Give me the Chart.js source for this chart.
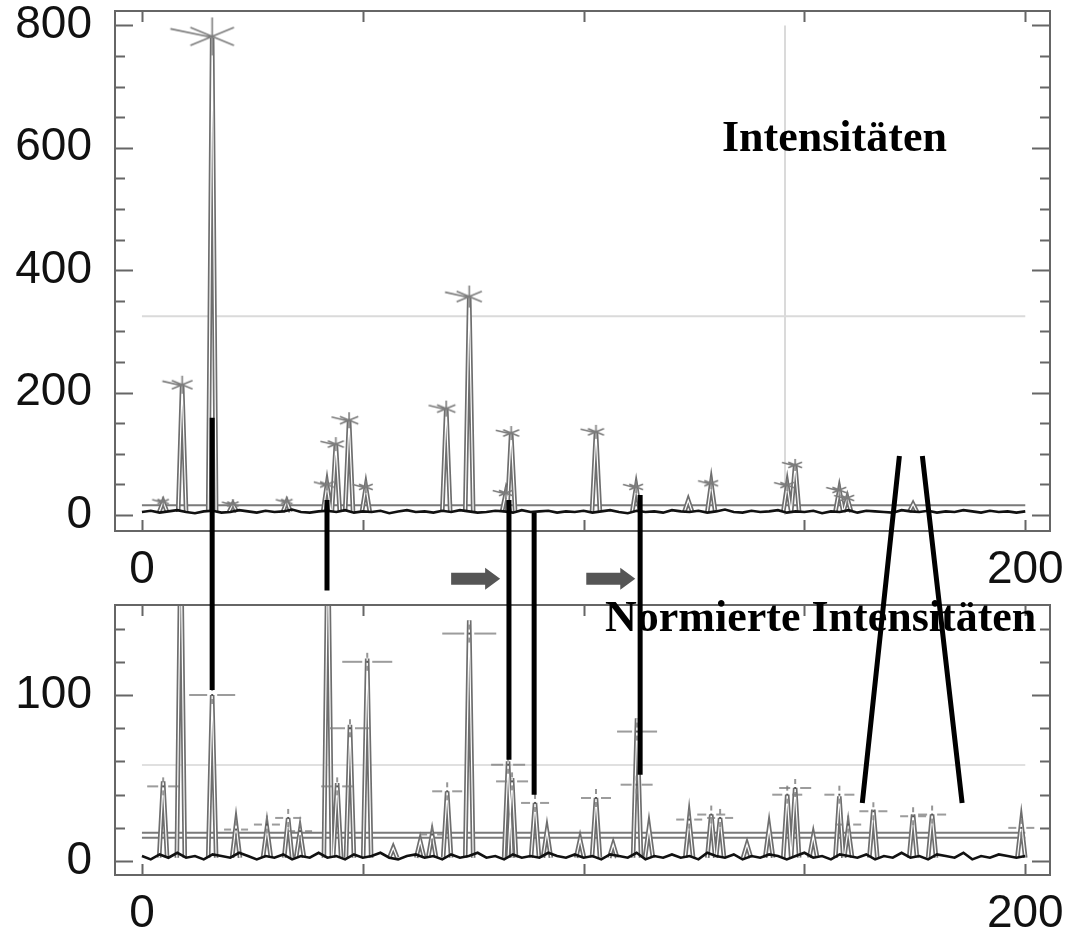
<!DOCTYPE html>
<html>
<head>
<meta charset="utf-8">
<script src="https://cdn.jsdelivr.net/npm/chart.js@4.4.0/dist/chart.umd.min.js"></script>
<style>
  body { margin: 0; background: #fff; width: 1069px; height: 937px; position: relative; overflow: hidden; }
  canvas { position: absolute; left: 0; }
  #chart-top { top: 0; }
  #chart-bottom { top: 540px; }
  #overlay { top: 0; pointer-events: none; }
  .titel { position: absolute; font: bold 44px 'Liberation Serif', 'Times New Roman', serif; line-height: 1; color: #000; white-space: nowrap; }
</style>
</head>
<body>
<canvas id="chart-top" width="1069" height="600"></canvas>
<canvas id="chart-bottom" width="1069" height="397"></canvas>
<div class="titel" style="left:722px;top:115px">Intensitäten</div>
<div class="titel" style="left:605px;top:595px">Normierte Intensitäten</div>
<canvas id="overlay" width="1069" height="937"></canvas>
<script>
// axes
const xTicks = [0, 50, 100, 150, 200];
const xLabels = [0, 200];
const topYTicks = [0, 200, 400, 600, 800];
const botYTicks = [0, 100];

// oberes Spektrum: Intensitäten
const topPeakX = [4.8, 9.1, 15.9, 20.6, 32.8, 41.9, 43.9, 46.9, 50.7, 68.9, 74.1, 82.4, 83.6, 102.8, 111.9, 123.7, 128.9, 146.1, 147.9, 157.9, 159.7, 174.6];
const topPeakY = [22, 213, 780, 18, 22, 50, 116, 155, 46, 174, 356, 36, 134, 136, 46, 24, 52, 49, 82, 41, 28, 18];
const topStarX = [4.8, 9.1, 15.9, 20.6, 32.8, 41.9, 43.9, 46.9, 50.7, 68.9, 74.1, 82.4, 83.6, 102.8, 111.9, 128.9, 146.1, 147.9, 157.9, 159.7];
const topStarY = [22, 213, 782, 18, 22, 50, 116, 155, 46, 174, 357, 36, 134, 136, 46, 52, 49, 82, 41, 28];
const topNoise = [
  5, 7, 4, 6, 8, 5, 3, 6, 7, 4, 5, 8, 6, 4, 7, 5, 6, 9, 5, 4,
  6, 7, 5, 8, 4, 6, 5, 7, 3, 6, 8, 5, 6, 4, 7, 5, 8, 6, 4, 5,
  7, 6, 4, 8, 5, 6, 7, 4, 6, 5, 7, 4, 6, 8, 5, 3, 7, 5, 6, 4,
  8, 6, 5, 7, 4, 6, 9, 5, 4, 7, 5, 6, 8, 4, 6, 5, 7, 3, 6, 5,
  8, 4, 7, 6, 5, 4, 8, 6, 5, 7, 4, 6, 5, 8, 6, 4, 7, 5, 6, 4, 6,
];
const topRefH = 325;
const topRefV = 145.6;
const topThreshold = [16];

// unteres Spektrum: normierte Intensitäten
const botPeakX = [4.8, 8.8, 15.9, 21.3, 28.3, 33.1, 35.8, 42.1, 44.2, 47.1, 51.0, 56.9, 63.0, 65.7, 69.1, 74.1, 82.9, 83.8, 89.0, 91.7, 99.2, 102.8, 106.7, 112.1, 114.8, 123.9, 128.9, 130.9, 137.0, 142.0, 146.1, 147.9, 152.0, 157.9, 159.9, 165.6, 174.6, 178.9, 199.1];
const botPeakY = [48, 200, 100, 22, 20, 26, 18, 200, 47, 82, 122, 8, 12, 16, 42, 145, 60, 50, 35, 18, 13, 38, 10, 86, 20, 25, 28, 26, 10, 20, 40, 44, 15, 39, 20, 31, 28, 28, 23];
const botMarkX = [4.8, 15.9, 21.3, 28.3, 33.1, 35.8, 44.2, 47.1, 51.0, 65.7, 69.1, 74.1, 82.9, 83.8, 89.0, 102.8, 112.1, 112.0, 123.9, 128.9, 130.9, 146.1, 147.9, 157.9, 159.9, 165.6, 174.6, 178.9, 199.1];
const botMarkY = [45, 100, 19, 22, 26, 18, 45, 80, 120, 16, 42, 137, 58, 48, 35, 38, 78, 46, 25, 28, 26, 40, 44, 40, 22, 30, 27, 28, 20];
const botNoise = [
  3, 1, 4, 2, 5, 2, 3, 1, 4, 3, 2, 5, 3, 1, 3, 2, 4, 1, 3, 2,
  5, 2, 3, 1, 4, 2, 3, 5, 2, 1, 3, 4, 2, 3, 1, 4, 2, 3, 5, 2,
  3, 1, 4, 2, 3, 2, 5, 3, 2, 4, 2, 3, 1, 4, 3, 2, 5, 1, 3, 2,
  4, 2, 3, 1, 5, 3, 2, 4, 1, 3, 2, 4, 3, 1, 3, 5, 2, 3, 1, 4,
  3, 2, 4, 1, 3, 2, 5, 2, 3, 1, 4, 3, 2, 5, 1, 3, 2, 4, 3, 2, 3,
];
const botRefH = 57.8;
const botThreshold = [17, 14];

// Verbindungslinien (oben -> unten) und Pfeile
const linkTopX = [15.9, 41.9, 83.1, 88.8, 112.8, 171.5, 176.7];
const linkTopY = [159, 24.5, 24.5, 3.3, 32.7, 96.4, 96.4];
const linkBotX = [15.9, 41.9, 83.1, 88.8, 112.8, 163.1, 185.7];
const linkBotY = [103, 163, 61, 40, 52, 35, 35];
const arrowTipX = [81.1, 111.7];
const arrowY = -104;

const NOISE_STEP = 2;
const PEAK_HALF = 0.9;
const tickFont = "'Liberation Sans', Arial, sans-serif";

function peakPoints(xs, ys, base) {
  const pts = [];
  xs.forEach((x, i) => {
    pts.push({ x: x - PEAK_HALF, y: base }, { x, y: ys[i] }, { x: x + PEAK_HALF, y: base }, { x: x + PEAK_HALF, y: null });
  });
  return pts;
}
const pairs = (xs, ys) => xs.map((x, i) => ({ x, y: ys[i] }));
const noisePoints = (arr) => arr.map((v, i) => ({ x: i * NOISE_STEP, y: v }));
const hLine = (v) => [{ x: 0, y: v }, { x: 200, y: v }];

const markerCache = {};
function starMarker(r) {
  r = Math.round(r);
  const key = 's' + r;
  if (markerCache[key]) return markerCache[key];
  const c = document.createElement('canvas');
  c.width = r * 5 + 6; c.height = r * 2 + 8;
  const g = c.getContext('2d');
  const cx = c.width / 2, cy = c.height / 2;
  g.strokeStyle = '#7c7c7c'; g.lineWidth = 1.6;
  g.beginPath();
  [90, 28, 152].forEach((a) => {
    const rad = a * Math.PI / 180;
    g.moveTo(cx - Math.cos(rad) * r * 1.3, cy - Math.sin(rad) * r);
    g.lineTo(cx + Math.cos(rad) * r * 1.3, cy + Math.sin(rad) * r);
  });
  g.moveTo(cx, cy + 1);
  g.lineTo(cx - r * 2.2, cy - r * 0.4);
  g.stroke();
  return (markerCache[key] = c);
}
function crossMarker(w) {
  w = Math.round(w);
  const key = 'c' + w;
  if (markerCache[key]) return markerCache[key];
  const c = document.createElement('canvas');
  c.width = w * 2 + 4; c.height = 20;
  const g = c.getContext('2d');
  const cx = c.width / 2, cy = 10;
  g.strokeStyle = '#7c7c7c'; g.lineWidth = 1.6;
  g.beginPath();
  g.moveTo(2, cy); g.lineTo(cx - 5, cy);
  g.moveTo(cx + 5, cy); g.lineTo(c.width - 2, cy);
  g.moveTo(cx, 1); g.lineTo(cx, 6);
  g.moveTo(cx, 14); g.lineTo(cx, 19);
  g.stroke();
  g.fillStyle = '#555';
  g.fillRect(cx - 1, cy - 1, 2, 2);
  return (markerCache[key] = c);
}

const framePlugin = {
  id: 'frame',
  afterDatasetsDraw(chart, args, o) {
    const { ctx, chartArea: a, scales: { x, y } } = chart;
    ctx.save();
    ctx.strokeStyle = '#666';
    ctx.lineWidth = 2;
    ctx.strokeRect(a.left, a.top, a.width, a.height);
    ctx.beginPath();
    for (let v = 0; v <= o.yMax; v += o.minor) {
      const py = Math.round(y.getPixelForValue(v)) + 0.5;
      const len = v % o.major === 0 ? 18 : 10;
      ctx.moveTo(a.left, py); ctx.lineTo(a.left + len, py);
      ctx.moveTo(a.right, py); ctx.lineTo(a.right - len, py);
    }
    xTicks.forEach((v) => {
      const px = Math.round(x.getPixelForValue(v)) + 0.5;
      ctx.moveTo(px, a.top); ctx.lineTo(px, a.top + 11);
      ctx.moveTo(px, a.bottom); ctx.lineTo(px, a.bottom - 11);
    });
    ctx.stroke();
    ctx.restore();
  },
};

function makeChart(id, cfg) {
  return new Chart(document.getElementById(id), {
    type: 'line',
    data: { datasets: cfg.datasets },
    options: {
      responsive: false,
      animation: false,
      devicePixelRatio: 1,
      layout: { padding: { top: cfg.padTop, right: 19, left: 0, bottom: 0 } },
      elements: { line: { tension: 0 }, point: { radius: 0 } },
      plugins: { legend: { display: false }, tooltip: { enabled: false }, frame: cfg.frame },
      scales: {
        x: {
          type: 'linear', min: -6.1, max: 205.6,
          grid: { display: false, drawTicks: false }, border: { display: false },
          afterBuildTicks: (s) => { s.ticks = xTicks.map((v) => ({ value: v })); },
          afterFit: (s) => { s.height = cfg.xAxisH; s.paddingLeft = 0; s.paddingRight = 0; },
          ticks: { padding: 12, maxRotation: 0, autoSkip: false, color: '#111', font: { family: tickFont, size: 46 },
            callback: (v) => (xLabels.includes(v) ? String(v) : '') },
        },
        y: {
          type: 'linear', min: cfg.yMin, max: cfg.yMax,
          grid: { display: false, drawTicks: false }, border: { display: false },
          afterBuildTicks: (s) => { s.ticks = cfg.yTicks.map((v) => ({ value: v })); },
          afterFit: (s) => { s.width = 115; s.paddingTop = 0; s.paddingBottom = 0; },
          ticks: { padding: 23, color: '#111', font: { family: tickFont, size: 46 } },
        },
      },
    },
    plugins: [framePlugin],
  });
}

function spectrumSets(peaks, noise, thresholds, refs, markers) {
  return [
    markers,
    { data: noise, borderColor: '#111111', borderWidth: 2.6, pointRadius: 0 },
    { data: peaks, borderColor: '#ffffff', borderWidth: 1.2, pointRadius: 0, spanGaps: false },
    { data: peaks, borderColor: '#6e6e6e', borderWidth: 4.6, pointRadius: 0, spanGaps: false },
    ...thresholds.map((v) => ({ data: hLine(v), borderColor: '#7a7a7a', borderWidth: 2, pointRadius: 0 })),
    ...refs,
  ];
}

const topChart = makeChart('chart-top', {
  padTop: 11, xAxisH: 69, yMin: -26, yMax: 823.5, yTicks: topYTicks,
  frame: { yMax: 800, minor: 50, major: 200 },
  datasets: spectrumSets(
    peakPoints(topPeakX, topPeakY, 5),
    noisePoints(topNoise),
    topThreshold,
    [
      { data: hLine(topRefH), borderColor: '#dadada', borderWidth: 2, pointRadius: 0 },
      { data: [{ x: topRefV, y: 0 }, { x: topRefV, y: 800 }], borderColor: '#dadada', borderWidth: 2, pointRadius: 0 },
    ],
    { data: pairs(topStarX, topStarY), showLine: false, pointRadius: 3,
      pointStyle: (c) => starMarker(5 + (topStarY[c.dataIndex] || 0) / 55) },
  ),
});

const botChart = makeChart('chart-bottom', {
  padTop: 65, xAxisH: 62, yMin: -8.4, yMax: 154.2, yTicks: botYTicks,
  frame: { yMax: 140, minor: 20, major: 100 },
  datasets: spectrumSets(
    peakPoints(botPeakX, botPeakY, 2),
    noisePoints(botNoise),
    botThreshold,
    [{ data: hLine(botRefH), borderColor: '#d6d6d6', borderWidth: 1.5, pointRadius: 0 }],
    { data: pairs(botMarkX, botMarkY), showLine: false, pointRadius: 3,
      pointStyle: (c) => crossMarker(10 + (botMarkY[c.dataIndex] || 0) / 8) },
  ),
});

// Overlay: Verbindungslinien und Pfeile über beide Diagramme
const topOff = 0, botOff = 540;
const topPx = (x, y) => [topChart.scales.x.getPixelForValue(x), topOff + topChart.scales.y.getPixelForValue(y)];
const botPx = (x, y) => [botChart.scales.x.getPixelForValue(x), botOff + botChart.scales.y.getPixelForValue(y)];

const ov = document.getElementById('overlay').getContext('2d');
ov.strokeStyle = '#000';
ov.lineWidth = 5;
ov.beginPath();
linkTopX.forEach((x, i) => {
  const [x1, y1] = topPx(x, linkTopY[i]);
  const [x2, y2] = botPx(linkBotX[i], linkBotY[i]);
  ov.moveTo(x1, y1);
  ov.lineTo(x2, y2);
});
ov.stroke();

ov.fillStyle = '#555';
arrowTipX.forEach((x) => {
  const [tx, ty] = topPx(x, arrowY);
  ov.beginPath();
  ov.moveTo(tx - 49, ty - 6);
  ov.lineTo(tx - 15, ty - 6);
  ov.lineTo(tx - 15, ty - 11);
  ov.lineTo(tx, ty);
  ov.lineTo(tx - 15, ty + 11);
  ov.lineTo(tx - 15, ty + 6);
  ov.lineTo(tx - 49, ty + 6);
  ov.closePath();
  ov.fill();
});
</script>
</body>
</html>
